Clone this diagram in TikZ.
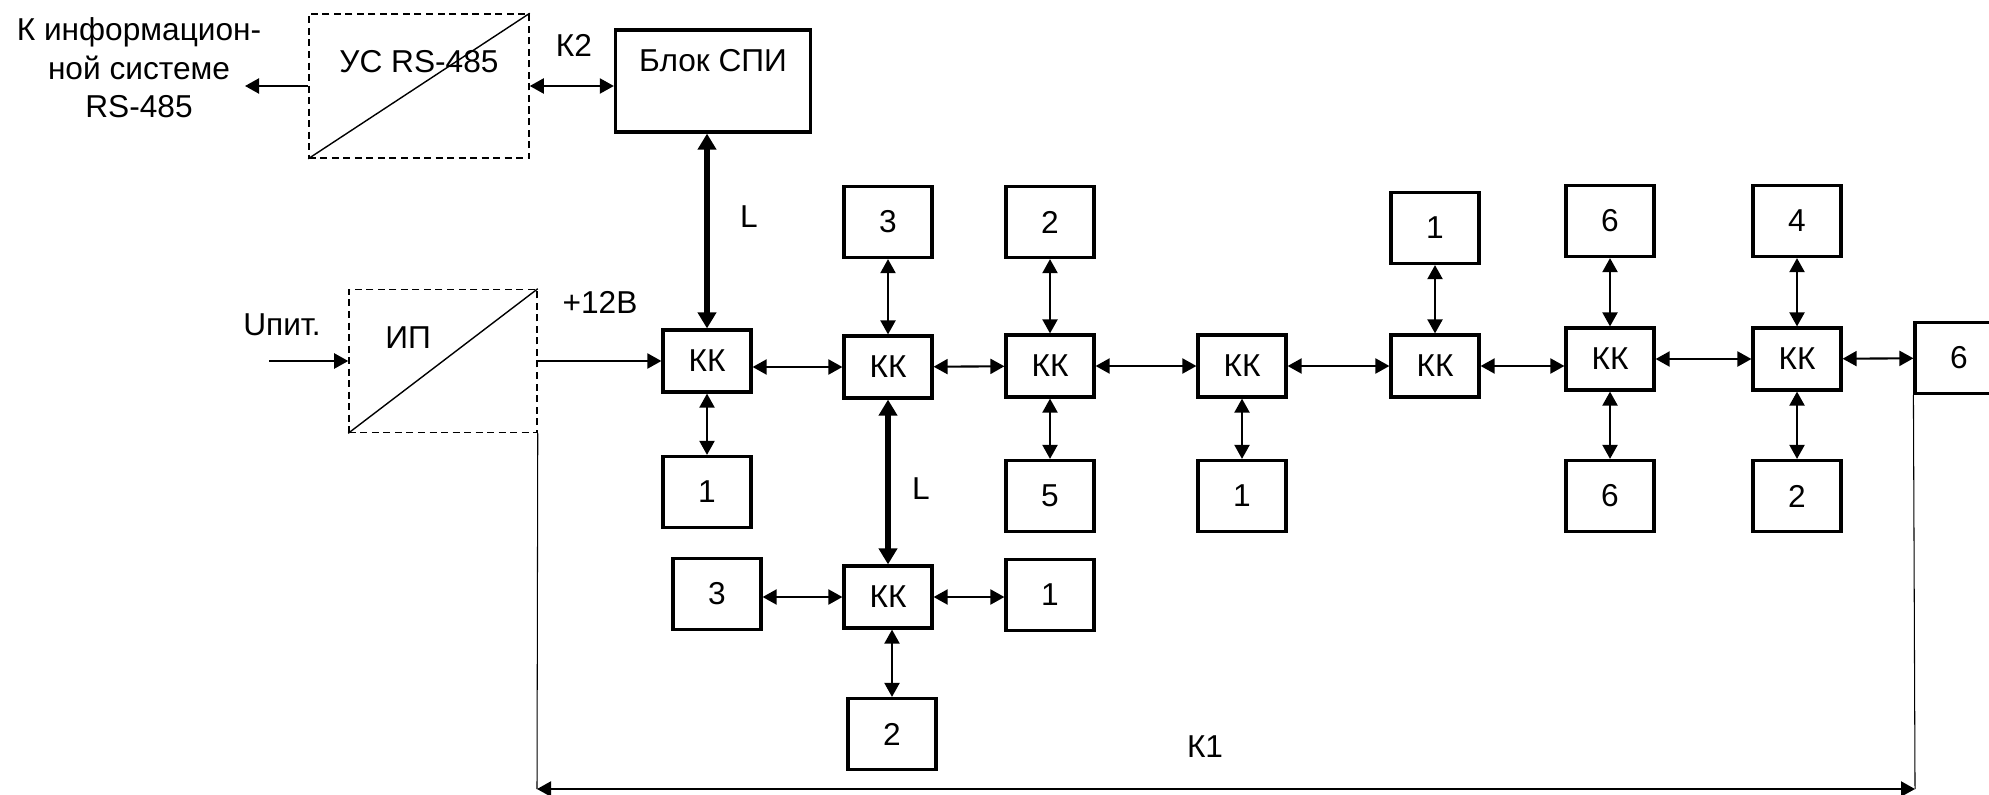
\documentclass[tikz,border=0pt]{standalone}
\usepackage{fontspec}
\setmainfont{Liberation Sans}
\usetikzlibrary{arrows.meta}

\begin{document}
\begin{tikzpicture}[x=0.01cm,y=-0.01cm,font=\fontsize{9}{11}\selectfont,
bx/.style={draw,line width=0.9pt,rectangle,inner sep=0pt,minimum width=0.88cm,minimum height=0.71cm},
kk/.style={bx,minimum height=0.62cm},
dbx/.style={draw,line width=0.4pt,dash pattern=on 0.07cm off 0.045cm,rectangle,inner sep=0pt},
lnk/.style={line width=0.6pt,{Triangle[length=0.14cm,width=0.15cm]}-{Triangle[length=0.14cm,width=0.15cm]}},
lnkL/.style={line width=1.5pt,{Triangle[length=0.16cm,width=0.18cm]}-{Triangle[length=0.16cm,width=0.18cm]}},
uni/.style={line width=0.6pt,-{Triangle[length=0.14cm,width=0.15cm]}}]
\path[use as bounding box,clip] (0,0) rectangle (1989,794);
\node[align=center] (infsys) at (139,68) {К информацион-\\ной системе\\RS-485};
\node[dbx,minimum width=2.2cm,minimum height=1.44cm] (us) at (419,86) {};
\draw[line width=0.4pt] (us.south west) -- (us.north east);
\node (ustxt) at (419,62) {УС RS-485};
\node[bx,minimum width=1.95cm,minimum height=1.02cm] (spi) at (713,81) {};
\node (spitxt) at (713,61) {Блок СПИ};
\node (k2) at (574,45) {К2};
\coordinate (tosys) at (245,86);
\draw[uni] (us) -- (tosys);
\draw[lnk] (us) -- (us -| spi.west);
\node[dbx,minimum width=1.88cm,minimum height=1.43cm] (ip) at (443,361) {};
\draw[line width=0.4pt] (ip.south west) -- (ip.north east);
\node (iptxt) at (408,338) {ИП};
\node (upit) at (282,325) {Uпит.};
\node (p12) at (600,302) {+12В};
\coordinate (uin) at (269,361);
\foreach \n/\x/\y in %
{kk1/707/361,kk2/888/367,kk3/1050/366,kk4/1242/366,kk5/1435/366,kk6/1610/359,kk7/1797/359,kk8/888/597} {
   \node[kk] (\n) at (\x,\y) {КК};
}
\foreach \n/\x/\y/\1 in %
{a2/888/222/3,a3/1050/222/2,a5/1435/228/1,a6/1610/221/6,a7/1797/221/4,b1/707/492/1,b3/1050/496/5,b4/1242/496/1,b6/1610/496/6,b7/1797/496/2,c3/717/594/3,c1/1050/595/1,c2/892/734/2,e6/1959/358/6} {
   \node[bx] (\n) at (\x,\y) {\1};
}
\draw[uni] (uin) -- (ip);
\draw[uni] (ip) -- (kk1);
\foreach \a/\b in %
{a2/kk2,a3/kk3,a5/kk5,a6/kk6,a7/kk7,kk1/b1,kk3/b3,kk4/b4,kk6/b6,kk7/b7,kk2/kk3,kk3/kk4,kk4/kk5,kk6/kk7,kk7/e6} {
   \draw[lnk] (\a) -- (\b);
}
\draw[lnk] (kk1.east |- kk2) -- (kk2);
\draw[lnk] (kk5) -- (kk5 -| kk6.west);
\draw[lnk] (c3.east |- kk8) -- (kk8);
\draw[lnk] (kk8) -- (kk8 -| c1.west);
\draw[lnk] (kk8.south -| c2.north) -- (c2.north);
\draw[lnkL] (kk1.north |- spi.south) -- (kk1);
\draw[lnkL] (kk2) -- (kk8);
\node (l1) at (749,217) {L};
\node (l2) at (921,489) {L};
\coordinate (k1a) at (537,789);
\coordinate (k1b) at (1915,789);
\draw[line width=0.3pt] (ip.south east) -- (k1a);
\draw[line width=0.3pt] (e6.south west) -- (k1b);
\draw[lnk] (k1a) -- (k1b);
\node (k1) at (1205,747) {К1};
\end{tikzpicture}
\end{document}
